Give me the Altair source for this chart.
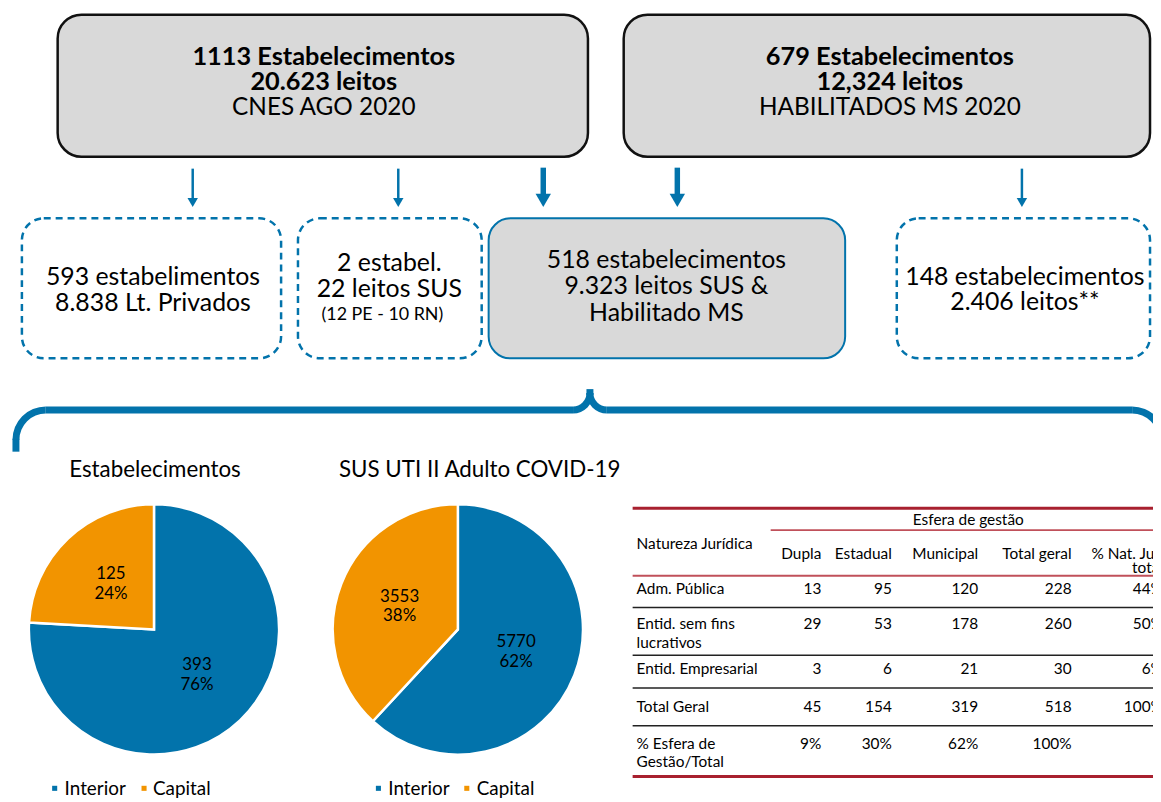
import math
import altair as alt
import pandas as pd

# ------------------------------------------------------------------ data
top_titles = ["1113 Estabelecimentos", "679 Estabelecimentos"]
top_leitos = ["20.623 leitos", "12,324 leitos"]
top_sources = ["CNES AGO 2020", "HABILITADOS MS 2020"]

mid_box_a = ["593 estabelimentos", "8.838 Lt. Privados"]
mid_box_b = ["2 estabel.", "22 leitos SUS"]
mid_box_b_note = ["(12 PE - 10 RN)"]
mid_box_c = ["518 estabelecimentos", "9.323 leitos SUS &", "Habilitado MS"]
mid_box_d = ["148 estabelecimentos", "2.406 leitos**"]

pie_titles = ["Estabelecimentos", "SUS UTI II Adulto COVID-19"]
pie_categories = ["Interior", "Capital"]
estab_counts = [393, 125]
estab_pcts = ["76%", "24%"]
leitos_counts = [5770, 3553]
leitos_pcts = ["62%", "38%"]

table_group_header = "Esfera de gestão"
table_stub_header = "Natureza Jurídica"
table_columns = ["Dupla", "Estadual", "Municipal", "Total geral", "% Nat. Jur.\ntotal"]
table_rows = ["Adm. Pública", "Entid. sem fins\nlucrativos", "Entid. Empresarial",
              "Total Geral", "% Esfera de\nGestão/Total"]
col_dupla = ["13", "29", "3", "45", "9%"]
col_estadual = ["95", "53", "6", "154", "30%"]
col_municipal = ["120", "178", "21", "319", "62%"]
col_total = ["228", "260", "30", "518", "100%"]
col_pct_nat = ["44%", "50%", "6%", "100%", ""]

# ------------------------------------------------------------------ layout / style
OX, OY = 8, 8
W, H = 1153, 794
BLUE = "#0273ab"
ORANGE = "#f29400"
GRAY = "#d9d9d9"
RED = "#a8202f"
RED2 = "#c0505a"
FONT = "Lato"

xs = alt.Scale(domain=[OX, OX + W], nice=False, zero=False)
ys = alt.Scale(domain=[OY, OY + H], nice=False, zero=False, reverse=True)


def X(f):
    return alt.X(f, type="quantitative", scale=xs, axis=None)


def Y(f):
    return alt.Y(f, type="quantitative", scale=ys, axis=None)


def px(v):
    return v - OX


def py(v):
    return v - OY


one = pd.DataFrame({"a": [0]})
layers = []

# ---- top boxes
top_df = pd.DataFrame({"x0": [58, 628], "x1": [592, 1158], "y0": [12, 12], "y1": [155, 155]})
layers.append(alt.Chart(top_df).mark_rect(fill=GRAY, stroke="#111", strokeWidth=2.5, cornerRadius=24)
              .encode(x=X("x0"), x2="x1", y=Y("y0"), y2="y1"))
top_cx = [326, 896]
bold_rows = []
norm_rows = []
for i in range(2):
    bold_rows.append({"x": top_cx[i], "y": 55, "t": top_titles[i]})
    bold_rows.append({"x": top_cx[i], "y": 80, "t": top_leitos[i]})
    norm_rows.append({"x": top_cx[i], "y": 106, "t": top_sources[i]})
layers.append(alt.Chart(pd.DataFrame(bold_rows)).mark_text(fontSize=25.5, fontWeight="bold", font=FONT, baseline="middle")
              .encode(x=X("x"), y=Y("y"), text="t:N"))
layers.append(alt.Chart(pd.DataFrame(norm_rows)).mark_text(fontSize=24.5, font=FONT, baseline="middle")
              .encode(x=X("x"), y=Y("y"), text="t:N"))

# ---- arrows
thin = pd.DataFrame({"x": [194, 401, 1029]})
thick = pd.DataFrame({"x": [547, 682]})
layers.append(alt.Chart(thin).mark_rule(color=BLUE, strokeWidth=2.5)
              .encode(x=X("x"), y=alt.value(py(167)), y2=alt.value(py(199))))
layers.append(alt.Chart(thin).mark_point(shape="triangle-down", filled=True, size=110, color=BLUE, opacity=1)
              .encode(x=X("x"), y=alt.value(py(201))))
layers.append(alt.Chart(thick).mark_rule(color=BLUE, strokeWidth=5.5)
              .encode(x=X("x"), y=alt.value(py(166)), y2=alt.value(py(194))))
layers.append(alt.Chart(thick).mark_point(shape="triangle-down", filled=True, size=240, color=BLUE, opacity=1)
              .encode(x=X("x"), y=alt.value(py(199))))

# ---- middle boxes
dash_df = pd.DataFrame({"x0": [22, 300, 903], "x1": [283, 485, 1158], "y0": [217] * 3, "y1": [358] * 3})
layers.append(alt.Chart(dash_df).mark_rect(fill="white", stroke=BLUE, strokeWidth=2.5, strokeDash=[7, 5], cornerRadius=22)
              .encode(x=X("x0"), x2="x1", y=Y("y0"), y2="y1"))
solid_df = pd.DataFrame({"x0": [492], "x1": [851], "y0": [217], "y1": [358]})
layers.append(alt.Chart(solid_df).mark_rect(fill=GRAY, stroke=BLUE, strokeWidth=2, cornerRadius=22)
              .encode(x=X("x0"), x2="x1", y=Y("y0"), y2="y1"))

mid_rows = []
for lines, cx, ys0 in [(mid_box_a, 154, [276, 302]),
                       (mid_box_b, 392, [262, 288]),
                       (mid_box_c, 671, [259, 285, 312]),
                       (mid_box_d, 1032, [276, 301])]:
    for t, yy in zip(lines, ys0):
        mid_rows.append({"x": cx, "y": yy, "t": t})
layers.append(alt.Chart(pd.DataFrame(mid_rows)).mark_text(fontSize=25, font=FONT, baseline="middle")
              .encode(x=X("x"), y=Y("y"), text="t:N"))
layers.append(alt.Chart(pd.DataFrame({"x": [385], "y": [314], "t": mid_box_b_note}))
              .mark_text(fontSize=18, font=FONT, baseline="middle")
              .encode(x=X("x"), y=Y("y"), text="t:N"))

# ---- brace
BW = 7
hseg = pd.DataFrame({"x0": [46, 611], "x1": [577, 1140], "y": [410, 410]})
layers.append(alt.Chart(hseg).mark_rule(color=BLUE, strokeWidth=BW)
              .encode(x=X("x0"), x2="x1", y=Y("y")))
layers.append(alt.Chart(one).mark_rule(color=BLUE, strokeWidth=BW)
              .encode(x=alt.value(px(16)), y=alt.value(py(439)), y2=alt.value(py(452))))
layers.append(alt.Chart(one).mark_rule(color=BLUE, strokeWidth=BW)
              .encode(x=alt.value(px(594)), y=alt.value(py(389)), y2=alt.value(py(395))))
for cx, cy, r, t0, t1 in [(46, 440, 30, 1.5 * math.pi, 2 * math.pi),
                          (1140, 440, 30, 0.0, 0.5 * math.pi),
                          (577, 393, 17, 0.5 * math.pi, math.pi),
                          (611, 393, 17, math.pi, 1.5 * math.pi)]:
    layers.append(alt.Chart(one).mark_arc(radius=r + BW / 2, radius2=r - BW / 2, theta=t0, theta2=t1, color=BLUE)
                  .encode(x=alt.value(px(cx)), y=alt.value(py(cy))))

# ---- pies
color_scale = alt.Scale(domain=pie_categories, range=[BLUE, ORANGE])
for counts, pcts, cx, cy in [(estab_counts, estab_pcts, 155, 631), (leitos_counts, leitos_pcts, 461, 631)]:
    df = pd.DataFrame({"cat": pie_categories, "v": counts, "pct": pcts, "k": [0, 1]})
    base = alt.Chart(df).encode(theta=alt.Theta("v:Q", stack=True), order=alt.Order("k:Q"),
                                x=alt.value(px(cx)), y=alt.value(py(cy)))
    layers.append(base.mark_arc(radius=126, stroke="white", strokeWidth=2.5)
                  .encode(color=alt.Color("cat:N", scale=color_scale, legend=None)))
    layers.append(base.mark_text(radius=63, dy=-10, fontSize=17, font=FONT, baseline="middle").encode(text="v:Q"))
    layers.append(base.mark_text(radius=63, dy=10, fontSize=17, font=FONT, baseline="middle").encode(text="pct:N"))

layers.append(alt.Chart(pd.DataFrame({"x": [156, 483], "y": [470, 470], "t": pie_titles}))
              .mark_text(fontSize=22.5, font=FONT, baseline="middle")
              .encode(x=X("x"), y=Y("y"), text="t:N"))

# manual legends
leg_sq = []
leg_tx = []
for sx, tx in [([55, 145], [65, 154]), ([381, 470], [391, 480])]:
    for i, c in enumerate(pie_categories):
        leg_sq.append({"x": sx[i], "y": 791, "cat": c})
        leg_tx.append({"x": tx[i], "y": 792, "t": c})
layers.append(alt.Chart(pd.DataFrame(leg_sq)).mark_square(size=26, opacity=1)
              .encode(x=X("x"), y=Y("y"), color=alt.Color("cat:N", scale=color_scale, legend=None)))
layers.append(alt.Chart(pd.DataFrame(leg_tx)).mark_text(fontSize=19, font=FONT, align="left", baseline="middle")
              .encode(x=X("x"), y=Y("y"), text="t:N"))

# ---- table
TL, TR = 637, 1165
red_lines = pd.DataFrame({"x0": [TL, TL], "x1": [TR, TR], "y": [509, 779]})
layers.append(alt.Chart(red_lines).mark_rule(color=RED, strokeWidth=3)
              .encode(x=X("x0"), x2="x1", y=Y("y")))
red_thin = pd.DataFrame({"x0": [776, TL], "x1": [TR, TR], "y": [531, 577]})
layers.append(alt.Chart(red_thin).mark_rule(color=RED2, strokeWidth=2)
              .encode(x=X("x0"), x2="x1", y=Y("y")))
black_lines = pd.DataFrame({"x0": [TL] * 4, "x1": [TR] * 4, "y": [609, 657, 690, 728]})
layers.append(alt.Chart(black_lines).mark_rule(color="#222", strokeWidth=1.5)
              .encode(x=X("x0"), x2="x1", y=Y("y")))

hdr = [{"x": 975, "y": 521, "t": table_group_header, "a": "center"},
       {"x": 641, "y": 545, "t": table_stub_header, "a": "left"}]
col_right = [827, 898, 985, 1079, 1171]
for cr, name in zip(col_right, table_columns):
    for j, part in enumerate(name.split("\n")):
        hdr.append({"x": cr, "y": 555 + 14 * j, "t": part, "a": "right"})
hdr_df = pd.DataFrame(hdr)
for a in ["left", "center", "right"]:
    sub = hdr_df[hdr_df["a"] == a]
    layers.append(alt.Chart(sub).mark_text(fontSize=15.5, font=FONT, align=a, baseline="middle")
                  .encode(x=X("x"), y=Y("y"), text="t:N"))

row_y = [590, 626, 671, 709, 746]
lab = []
for ry, name in zip(row_y, table_rows):
    for j, part in enumerate(name.split("\n")):
        lab.append({"x": 641, "y": ry + 19 * j, "t": part})
layers.append(alt.Chart(pd.DataFrame(lab)).mark_text(fontSize=15.5, font=FONT, align="left", baseline="middle")
              .encode(x=X("x"), y=Y("y"), text="t:N"))
cells = []
for cr, col in zip(col_right, [col_dupla, col_estadual, col_municipal, col_total, col_pct_nat]):
    for ry, v in zip(row_y, col):
        cells.append({"x": cr, "y": ry, "t": v})
layers.append(alt.Chart(pd.DataFrame(cells)).mark_text(fontSize=15.5, font=FONT, align="right", baseline="middle")
              .encode(x=X("x"), y=Y("y"), text="t:N"))

chart = (alt.layer(*layers)
         .resolve_scale(theta="independent")
         .properties(width=W, height=H, padding=0, autosize=alt.AutoSizeParams(type="none"))
         .configure(font=FONT, view=alt.ViewConfig(strokeWidth=0, stroke="transparent")))

chart.save("out.html", embed_options={"renderer": "svg", "actions": False})
